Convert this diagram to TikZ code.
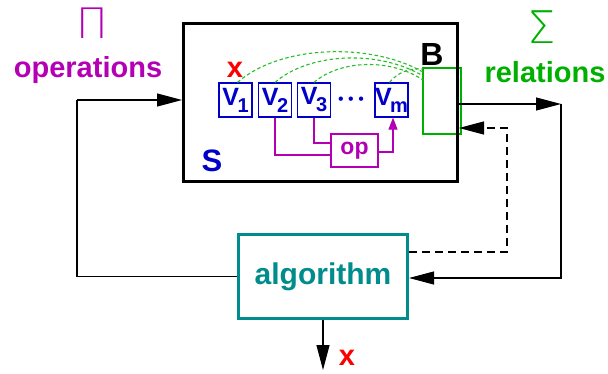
\documentclass[tikz,border=0pt]{standalone}
\usepackage{fontspec}
\setmainfont{Liberation Sans}
\newfontfamily\thinfont{DejaVu Sans ExtraLight}
\usetikzlibrary{arrows.meta}
\definecolor{mag}{RGB}{180,0,180}
\definecolor{grn}{RGB}{0,176,0}
\definecolor{dgrn}{RGB}{40,190,40}
\definecolor{blu}{RGB}{0,0,200}
\definecolor{teal2}{RGB}{0,140,140}
\definecolor{rd}{RGB}{250,0,0}
\newcommand\fs[1]{\fontsize{#1}{#1}\selectfont}
\newcommand\vsub[1]{\kern-1.5pt\raisebox{-7pt}{\fs{20}#1}}
\tikzset{
  vbox/.style={draw=blu,line width=1.2pt,minimum width=33pt,minimum height=34pt,inner sep=0pt,text=blu,font=\fs{25}\bfseries},
  conn/.style={line width=1.1pt},
  bigtip/.style={-{Triangle[length=25pt,width=13pt]}},
  lbl/.style={inner sep=0pt,font=\fs{29}\bfseries},
}
\begin{document}
\begin{tikzpicture}[x=1pt,y=-1pt]
\useasboundingbox (0,0) rectangle (608,374);
% green rectangle B
\node[draw=grn,line width=1.6pt,minimum width=38pt,minimum height=66pt,inner sep=0pt] (gB) at (442,101) {};
% main box S
\node[draw=black,line width=3pt,minimum width=274pt,minimum height=158pt,inner sep=0pt] (S) at (320.5,103) {};
\node[inner sep=0pt,font=\fs{32}\bfseries] (Blbl) at (432,54) {B};
\node[inner sep=0pt,font=\fs{31}\bfseries,text=blu] (Slbl) at (212,161) {S};
\node[lbl,text=rd] (x1) at (235,70) {x};
% V boxes
\node[vbox] (V1) at (235.5,100) {V\vsub{1}};
\node[vbox] (V2) at (275,100) {V\vsub{2}};
\node[vbox] (V3) at (314,100) {V\vsub{3}};
\node[vbox] (Vm) at (391.5,100) {V\vsub{m}};
\node[inner sep=0pt,text=blu,font=\fs{16}] (dots) at (351,101) {•\kern4.5pt•\kern4.5pt•};
% op
\node[draw=mag,line width=1.2pt,minimum width=47pt,minimum height=33pt,inner sep=0pt,text=mag,font=\fs{23}\bfseries] (op) at (354.5,150.5) {op};
\draw[mag,line width=1.1pt] (V2.south) |- ([yshift=-4.5pt]op.west);
\draw[mag,line width=1.1pt] (V3.south) |- ([yshift=7.5pt]op.west);
\draw[mag,line width=1.1pt,-{Triangle[length=12pt,width=9pt]}] ([yshift=-1.5pt]op.east) -| ([xshift=1.5pt]Vm.south);
% dashed green arcs
\coordinate (g1) at (423,72);
\coordinate (g2) at (423,76);
\coordinate (g3) at (423,80);
\coordinate (g4) at (423,69);
\tikzset{garc/.style={dgrn,line width=1.1pt,dash pattern=on 3.5pt off 2.5pt}}
\draw[garc] ([xshift=2pt]V1.north) .. controls (280,45) and (370,42) .. (g1);
\draw[garc] (V2.north) .. controls (310,52) and (380,50) .. (g2);
\draw[garc] (V3.north) .. controls (340,60) and (390,58) .. (g3);
\draw[garc] ([xshift=-2pt]Vm.north) .. controls (398,72) and (410,68) .. (g4);
% algorithm
\node[draw=teal2,line width=2.6pt,minimum width=169.5pt,minimum height=84.5pt,inner sep=0pt,text=teal2,font=\fs{30}\bfseries] (alg) at (323,276.5) {algorithm};
% labels
\node[lbl,text=mag] (ops) at (88,70) {operations};
\node[inner sep=0pt,text=mag,font=\fs{42}\thinfont] (pi) at (92,23) {Π};
\node[lbl,text=grn] (rel) at (545,72) {relations};
\node[inner sep=0pt,text=grn,font=\fs{45}\thinfont] (sig) at (542,27) {Σ};
% connectors
\coordinate (o1) at (77,100);
\draw[conn] (alg.west) -| (o1);
\draw[conn,bigtip] (o1) -- (S.west |- o1);
\coordinate (c1) at (561,104);
\coordinate (r2) at (561,278);
\draw[conn,bigtip] (S.east |- c1) -- (c1);
\draw[conn,bigtip] (c1) -- (r2) -- (alg.east |- r2);
\coordinate (d1) at (507,252);
\coordinate (d2) at (507,128);
\draw[conn,dashed,dash pattern=on 8pt off 5pt,-{Triangle[length=25pt,width=13pt]}] (alg.east |- d1) -- (d1) -- (d2) -- (S.east |- d2);
\coordinate (out) at (323,370);
\draw[conn,bigtip] (alg.south) -- (out);
\node[lbl,text=rd] (x2) at (347,358) {x};
\end{tikzpicture}
\end{document}
